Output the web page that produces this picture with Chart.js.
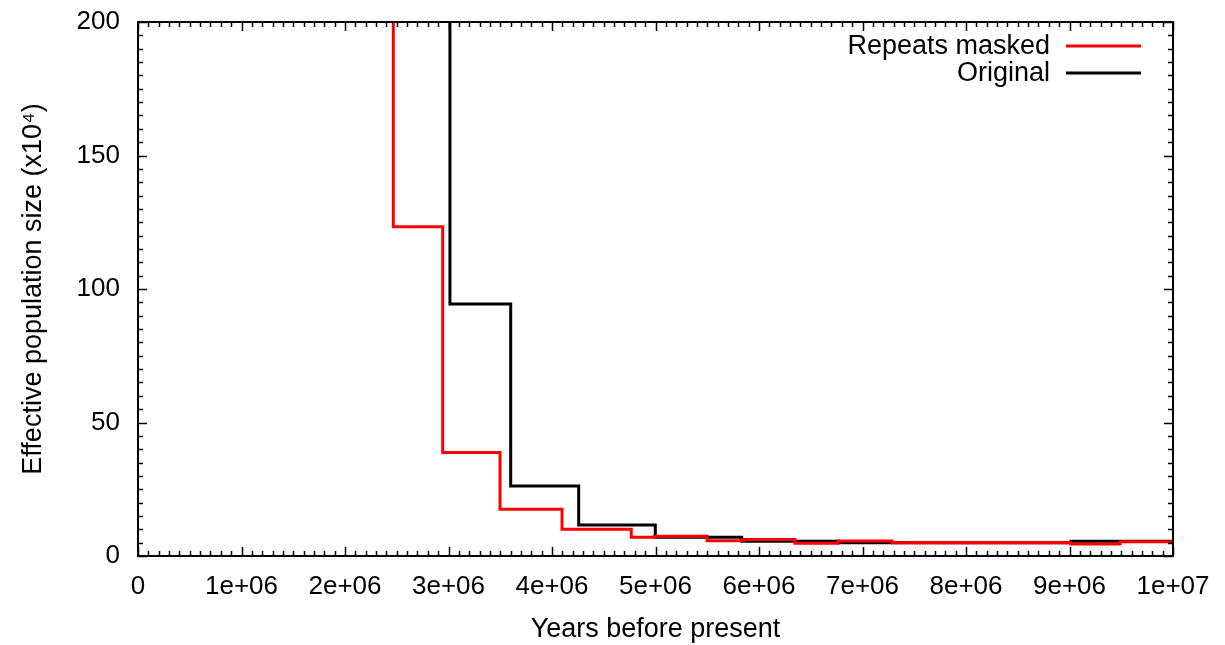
<!DOCTYPE html>
<html>
<head>
<meta charset="utf-8">
<script src="https://cdn.jsdelivr.net/npm/chart.js@4.4.0/dist/chart.umd.min.js"></script>
<style>
  html, body { margin: 0; padding: 0; background: #fff; }
  #wrap { width: 1225px; height: 645px; }
</style>
</head>
<body>
<div id="wrap"><canvas id="c" width="1225" height="645"></canvas></div>
<script>
// ---- data (years before present, effective population size x10^4) ----
const maskedYears = [2.30e6, 2.467e6, 2.944e6, 3.498e6, 4.097e6, 4.766e6, 4.99e6, 5.498e6, 5.845e6, 6.348e6, 6.763e6, 7.285e6, 9.014e6, 9.488e6, 1.0e7];
const maskedNe    = [260,    123.3,   38.8,    17.5,    10.0,    7.0,     7.4,    5.7,     6.2,     4.8,     5.6,     5.0,     4.5,     5.3,     5.3];
const originalYears = [2.80e6, 3.014e6, 3.601e6, 4.258e6, 4.998e6, 5.833e6, 6.763e6, 9.014e6, 1.0e7];
const originalNe    = [260,    94.4,    26.2,    11.6,    7.0,     5.5,     5.0,     5.5,     5.5];
const xTickValues = [0, 1e6, 2e6, 3e6, 4e6, 5e6, 6e6, 7e6, 8e6, 9e6, 1e7];
const xTickLabels = ["0", "1e+06", "2e+06", "3e+06", "4e+06", "5e+06", "6e+06", "7e+06", "8e+06", "9e+06", "1e+07"];
const yTickValues = [0, 50, 100, 150, 200];
const seriesLabels = ["Repeats masked", "Original"];
const seriesColors = ["#ff0000", "#000000"];

const FONT = "'Liberation Sans', Arial, Helvetica, sans-serif";

function toPoints(xs, ys) { return xs.map((x, i) => ({ x: x, y: ys[i] })); }

const framePlugin = {
  id: 'gnuplotFrame',
  afterDatasetsDraw(chart) {
    const ctx = chart.ctx;
    const a = chart.chartArea;
    const xs = chart.scales.x, ys = chart.scales.y;
    ctx.save();
    ctx.strokeStyle = '#000';
    ctx.lineWidth = 1.5;
    ctx.beginPath();
    for (let k = 0; k <= 100; k++) {
      const v = k * 1e5;
      const px = Math.round(xs.getPixelForValue(v)) + 0.5;
      const len = (k % 10 === 0) ? 9 : 5;
      ctx.moveTo(px, a.bottom); ctx.lineTo(px, a.bottom - len);
      ctx.moveTo(px, a.top); ctx.lineTo(px, a.top + len);
    }
    for (let k = 0; k <= 40; k++) {
      const v = k * 5;
      const py = Math.round(ys.getPixelForValue(v)) + 0.5;
      const len = (k % 10 === 0) ? 9 : 5;
      ctx.moveTo(a.left, py); ctx.lineTo(a.left + len, py);
      ctx.moveTo(a.right, py); ctx.lineTo(a.right - len, py);
    }
    ctx.stroke();
    ctx.lineWidth = 2;
    ctx.strokeRect(a.left, a.top, a.right - a.left, a.bottom - a.top);

    ctx.font = '27px ' + FONT;
    ctx.textAlign = 'right';
    ctx.textBaseline = 'middle';
    chart.data.datasets.forEach((ds, i) => {
      const y = 46 + i * 27;
      ctx.fillStyle = '#000';
      ctx.fillText(ds.label, 1050, y + 1);
      ctx.strokeStyle = ds.borderColor;
      ctx.lineWidth = 3;
      ctx.beginPath();
      ctx.moveTo(1066, y); ctx.lineTo(1141, y);
      ctx.stroke();
    });
    ctx.restore();
  }
};

new Chart(document.getElementById('c'), {
  type: 'line',
  data: {
    datasets: [
      { label: seriesLabels[0], data: toPoints(maskedYears, maskedNe), borderColor: seriesColors[0], borderWidth: 3, stepped: 'before', pointRadius: 0, fill: false, clip: 0 },
      { label: seriesLabels[1], data: toPoints(originalYears, originalNe), borderColor: seriesColors[1], borderWidth: 3, stepped: 'before', pointRadius: 0, fill: false, clip: 0 }
    ]
  },
  options: {
    responsive: false,
    animation: false,
    devicePixelRatio: 1,
    layout: { padding: { top: 22, right: 52, left: 0, bottom: 0 } },
    plugins: { legend: { display: false }, tooltip: { enabled: false } },
    scales: {
      x: {
        type: 'linear', min: 0, max: 1e7,
        afterBuildTicks(scale) { scale.ticks = xTickValues.map(v => ({ value: v })); },
        ticks: {
          callback: (v) => { const i = xTickValues.indexOf(v); return i >= 0 ? xTickLabels[i] : ''; },
          font: { family: FONT, size: 26 }, color: '#000', padding: 15, maxRotation: 0, autoSkip: false
        },
        grid: { display: false, drawTicks: false },
        border: { display: false },
        title: { display: true, text: 'Years before present', font: { family: FONT, size: 27 }, color: '#000', padding: { top: 4, bottom: -1 } },
        afterFit(scale) { scale.height = 89; scale.paddingLeft = 0; scale.paddingRight = 0; }
      },
      y: {
        type: 'linear', min: 0, max: 200,
        afterBuildTicks(scale) { scale.ticks = yTickValues.map(v => ({ value: v })); },
        ticks: { font: { family: FONT, size: 26 }, color: '#000', padding: 18 },
        grid: { display: false, drawTicks: false },
        border: { display: false },
        title: { display: true, text: 'Effective population size (x10⁴)', font: { family: FONT, size: 27 }, color: '#000', padding: { top: 17, bottom: 4 } },
        afterFit(scale) { scale.width = 138; scale.paddingTop = 0; scale.paddingBottom = 0; }
      }
    }
  },
  plugins: [framePlugin]
});
</script>
</body>
</html>
